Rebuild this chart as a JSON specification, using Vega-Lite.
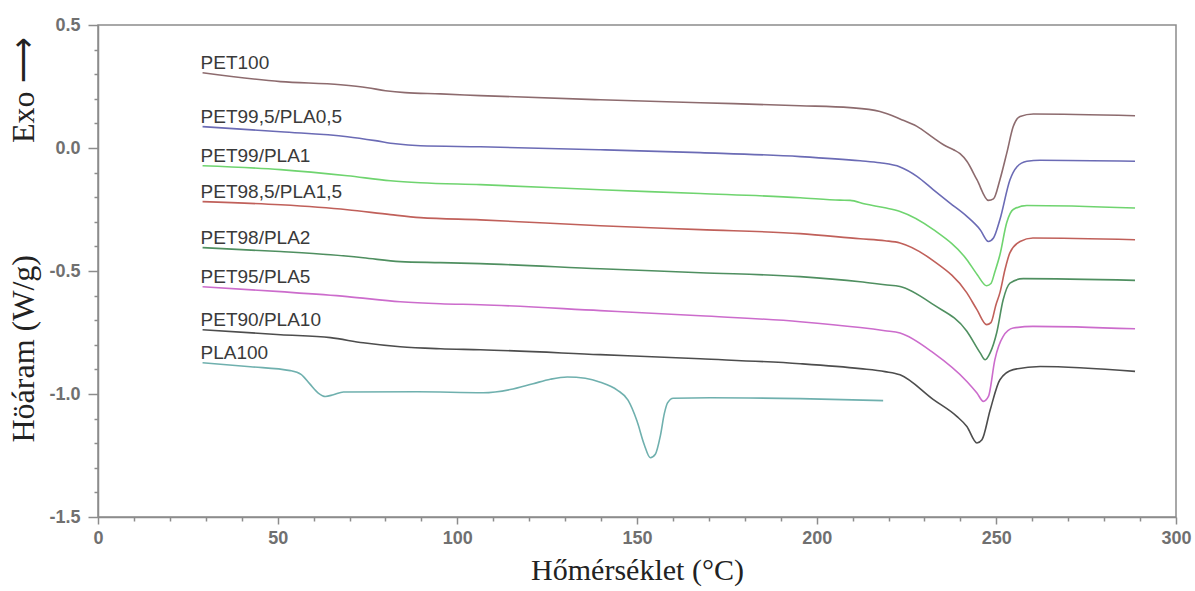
{
  "$schema": "https://vega.github.io/schema/vega-lite/v6.json",
  "width": 1078,
  "height": 492,
  "autosize": {"type": "none"},
  "padding": {"left": 98, "top": 25, "right": 19, "bottom": 74},
  "background": "white",
  "config": {
    "view": {"stroke": "#8c8c8c", "strokeWidth": 1.5},
    "axis": {
      "grid": false,
      "domainColor": "#8c8c8c",
      "domainWidth": 1.5,
      "tickColor": "#8c8c8c",
      "tickWidth": 1.5,
      "labelFont": "Liberation Sans",
      "labelFontSize": 18,
      "labelFontWeight": "bold",
      "labelColor": "#707070",
      "titleFont": "Liberation Serif",
      "titleFontWeight": "normal",
      "titleColor": "#222222"
    }
  },
  "data": {
    "values": [
      {"s": "PET100", "t": 29.1, "v": 0.306},
      {"s": "PET100", "t": 50.8, "v": 0.270},
      {"s": "PET100", "t": 67.5, "v": 0.257},
      {"s": "PET100", "t": 75.0, "v": 0.245},
      {"s": "PET100", "t": 80.0, "v": 0.233},
      {"s": "PET100", "t": 85.5, "v": 0.225},
      {"s": "PET100", "t": 95.3, "v": 0.220},
      {"s": "PET100", "t": 106.4, "v": 0.213},
      {"s": "PET100", "t": 139.8, "v": 0.196},
      {"s": "PET100", "t": 167.6, "v": 0.184},
      {"s": "PET100", "t": 195.4, "v": 0.172},
      {"s": "PET100", "t": 209.3, "v": 0.164},
      {"s": "PET100", "t": 217.6, "v": 0.148},
      {"s": "PET100", "t": 223.2, "v": 0.118},
      {"s": "PET100", "t": 227.9, "v": 0.088},
      {"s": "PET100", "t": 232.5, "v": 0.041},
      {"s": "PET100", "t": 235.3, "v": 0.013},
      {"s": "PET100", "t": 238.1, "v": -0.007},
      {"s": "PET100", "t": 239.9, "v": -0.023},
      {"s": "PET100", "t": 241.8, "v": -0.054},
      {"s": "PET100", "t": 244.6, "v": -0.129},
      {"s": "PET100", "t": 247.8, "v": -0.213},
      {"s": "PET100", "t": 249.2, "v": -0.207},
      {"s": "PET100", "t": 251.0, "v": -0.129},
      {"s": "PET100", "t": 252.9, "v": -0.021},
      {"s": "PET100", "t": 254.7, "v": 0.087},
      {"s": "PET100", "t": 256.6, "v": 0.128},
      {"s": "PET100", "t": 260.3, "v": 0.138},
      {"s": "PET100", "t": 288.6, "v": 0.131},

      {"s": "PET99,5/PLA0,5", "t": 29.1, "v": 0.087},
      {"s": "PET99,5/PLA0,5", "t": 50.8, "v": 0.066},
      {"s": "PET99,5/PLA0,5", "t": 69.4, "v": 0.046},
      {"s": "PET99,5/PLA0,5", "t": 77.2, "v": 0.030},
      {"s": "PET99,5/PLA0,5", "t": 82.8, "v": 0.017},
      {"s": "PET99,5/PLA0,5", "t": 89.7, "v": 0.009},
      {"s": "PET99,5/PLA0,5", "t": 106.4, "v": 0.005},
      {"s": "PET99,5/PLA0,5", "t": 139.8, "v": -0.007},
      {"s": "PET99,5/PLA0,5", "t": 167.6, "v": -0.019},
      {"s": "PET99,5/PLA0,5", "t": 195.4, "v": -0.035},
      {"s": "PET99,5/PLA0,5", "t": 212.1, "v": -0.052},
      {"s": "PET99,5/PLA0,5", "t": 217.6, "v": -0.060},
      {"s": "PET99,5/PLA0,5", "t": 223.2, "v": -0.077},
      {"s": "PET99,5/PLA0,5", "t": 227.9, "v": -0.115},
      {"s": "PET99,5/PLA0,5", "t": 232.5, "v": -0.170},
      {"s": "PET99,5/PLA0,5", "t": 237.1, "v": -0.224},
      {"s": "PET99,5/PLA0,5", "t": 241.8, "v": -0.278},
      {"s": "PET99,5/PLA0,5", "t": 245.5, "v": -0.332},
      {"s": "PET99,5/PLA0,5", "t": 247.8, "v": -0.380},
      {"s": "PET99,5/PLA0,5", "t": 249.2, "v": -0.366},
      {"s": "PET99,5/PLA0,5", "t": 251.0, "v": -0.291},
      {"s": "PET99,5/PLA0,5", "t": 253.8, "v": -0.129},
      {"s": "PET99,5/PLA0,5", "t": 255.7, "v": -0.077},
      {"s": "PET99,5/PLA0,5", "t": 258.5, "v": -0.054},
      {"s": "PET99,5/PLA0,5", "t": 262.2, "v": -0.050},
      {"s": "PET99,5/PLA0,5", "t": 288.6, "v": -0.054},

      {"s": "PET99/PLA1", "t": 29.1, "v": -0.072},
      {"s": "PET99/PLA1", "t": 50.8, "v": -0.088},
      {"s": "PET99/PLA1", "t": 69.4, "v": -0.113},
      {"s": "PET99/PLA1", "t": 81.4, "v": -0.133},
      {"s": "PET99/PLA1", "t": 89.7, "v": -0.141},
      {"s": "PET99/PLA1", "t": 106.4, "v": -0.149},
      {"s": "PET99/PLA1", "t": 139.8, "v": -0.170},
      {"s": "PET99/PLA1", "t": 167.6, "v": -0.185},
      {"s": "PET99/PLA1", "t": 195.4, "v": -0.202},
      {"s": "PET99/PLA1", "t": 206.5, "v": -0.212},
      {"s": "PET99/PLA1", "t": 209.3, "v": -0.213},
      {"s": "PET99/PLA1", "t": 213.5, "v": -0.228},
      {"s": "PET99/PLA1", "t": 219.0, "v": -0.243},
      {"s": "PET99/PLA1", "t": 223.2, "v": -0.258},
      {"s": "PET99/PLA1", "t": 232.5, "v": -0.332},
      {"s": "PET99/PLA1", "t": 241.8, "v": -0.454},
      {"s": "PET99/PLA1", "t": 244.7, "v": -0.515},
      {"s": "PET99/PLA1", "t": 247.3, "v": -0.560},
      {"s": "PET99/PLA1", "t": 248.5, "v": -0.551},
      {"s": "PET99/PLA1", "t": 249.6, "v": -0.503},
      {"s": "PET99/PLA1", "t": 251.0, "v": -0.434},
      {"s": "PET99/PLA1", "t": 252.9, "v": -0.303},
      {"s": "PET99/PLA1", "t": 254.7, "v": -0.250},
      {"s": "PET99/PLA1", "t": 258.5, "v": -0.234},
      {"s": "PET99/PLA1", "t": 288.6, "v": -0.244},

      {"s": "PET98,5/PLA1,5", "t": 29.1, "v": -0.218},
      {"s": "PET98,5/PLA1,5", "t": 50.8, "v": -0.231},
      {"s": "PET98,5/PLA1,5", "t": 69.4, "v": -0.251},
      {"s": "PET98,5/PLA1,5", "t": 81.4, "v": -0.271},
      {"s": "PET98,5/PLA1,5", "t": 89.7, "v": -0.283},
      {"s": "PET98,5/PLA1,5", "t": 106.4, "v": -0.292},
      {"s": "PET98,5/PLA1,5", "t": 139.8, "v": -0.316},
      {"s": "PET98,5/PLA1,5", "t": 167.6, "v": -0.332},
      {"s": "PET98,5/PLA1,5", "t": 195.4, "v": -0.348},
      {"s": "PET98,5/PLA1,5", "t": 212.1, "v": -0.369},
      {"s": "PET98,5/PLA1,5", "t": 219.0, "v": -0.377},
      {"s": "PET98,5/PLA1,5", "t": 223.2, "v": -0.386},
      {"s": "PET98,5/PLA1,5", "t": 232.4, "v": -0.458},
      {"s": "PET98,5/PLA1,5", "t": 241.8, "v": -0.589},
      {"s": "PET98,5/PLA1,5", "t": 244.6, "v": -0.657},
      {"s": "PET98,5/PLA1,5", "t": 247.3, "v": -0.718},
      {"s": "PET98,5/PLA1,5", "t": 248.5, "v": -0.710},
      {"s": "PET98,5/PLA1,5", "t": 249.9, "v": -0.637},
      {"s": "PET98,5/PLA1,5", "t": 251.0, "v": -0.588},
      {"s": "PET98,5/PLA1,5", "t": 252.4, "v": -0.495},
      {"s": "PET98,5/PLA1,5", "t": 253.8, "v": -0.425},
      {"s": "PET98,5/PLA1,5", "t": 256.6, "v": -0.380},
      {"s": "PET98,5/PLA1,5", "t": 260.2, "v": -0.366},
      {"s": "PET98,5/PLA1,5", "t": 288.6, "v": -0.373},

      {"s": "PET98/PLA2", "t": 29.1, "v": -0.405},
      {"s": "PET98/PLA2", "t": 50.8, "v": -0.421},
      {"s": "PET98/PLA2", "t": 64.7, "v": -0.434},
      {"s": "PET98/PLA2", "t": 73.8, "v": -0.446},
      {"s": "PET98/PLA2", "t": 84.1, "v": -0.462},
      {"s": "PET98/PLA2", "t": 95.3, "v": -0.466},
      {"s": "PET98/PLA2", "t": 106.4, "v": -0.470},
      {"s": "PET98/PLA2", "t": 139.8, "v": -0.491},
      {"s": "PET98/PLA2", "t": 167.6, "v": -0.507},
      {"s": "PET98/PLA2", "t": 195.4, "v": -0.523},
      {"s": "PET98/PLA2", "t": 212.1, "v": -0.544},
      {"s": "PET98/PLA2", "t": 219.0, "v": -0.556},
      {"s": "PET98/PLA2", "t": 223.2, "v": -0.563},
      {"s": "PET98/PLA2", "t": 232.5, "v": -0.637},
      {"s": "PET98/PLA2", "t": 241.8, "v": -0.745},
      {"s": "PET98/PLA2", "t": 245.5, "v": -0.833},
      {"s": "PET98/PLA2", "t": 246.9, "v": -0.861},
      {"s": "PET98/PLA2", "t": 248.3, "v": -0.832},
      {"s": "PET98/PLA2", "t": 250.1, "v": -0.751},
      {"s": "PET98/PLA2", "t": 251.9, "v": -0.617},
      {"s": "PET98/PLA2", "t": 253.8, "v": -0.549},
      {"s": "PET98/PLA2", "t": 257.5, "v": -0.531},
      {"s": "PET98/PLA2", "t": 288.6, "v": -0.538},

      {"s": "PET95/PLA5", "t": 29.1, "v": -0.564},
      {"s": "PET95/PLA5", "t": 50.8, "v": -0.584},
      {"s": "PET95/PLA5", "t": 69.4, "v": -0.604},
      {"s": "PET95/PLA5", "t": 84.1, "v": -0.625},
      {"s": "PET95/PLA5", "t": 95.3, "v": -0.633},
      {"s": "PET95/PLA5", "t": 106.4, "v": -0.637},
      {"s": "PET95/PLA5", "t": 139.8, "v": -0.661},
      {"s": "PET95/PLA5", "t": 167.6, "v": -0.682},
      {"s": "PET95/PLA5", "t": 195.4, "v": -0.706},
      {"s": "PET95/PLA5", "t": 212.1, "v": -0.730},
      {"s": "PET95/PLA5", "t": 219.0, "v": -0.743},
      {"s": "PET95/PLA5", "t": 223.2, "v": -0.752},
      {"s": "PET95/PLA5", "t": 232.5, "v": -0.833},
      {"s": "PET95/PLA5", "t": 241.8, "v": -0.949},
      {"s": "PET95/PLA5", "t": 244.6, "v": -0.996},
      {"s": "PET95/PLA5", "t": 246.4, "v": -1.030},
      {"s": "PET95/PLA5", "t": 247.8, "v": -1.010},
      {"s": "PET95/PLA5", "t": 249.6, "v": -0.860},
      {"s": "PET95/PLA5", "t": 251.9, "v": -0.766},
      {"s": "PET95/PLA5", "t": 254.7, "v": -0.732},
      {"s": "PET95/PLA5", "t": 260.2, "v": -0.725},
      {"s": "PET95/PLA5", "t": 288.6, "v": -0.735},

      {"s": "PET90/PLA10", "t": 29.1, "v": -0.739},
      {"s": "PET90/PLA10", "t": 50.8, "v": -0.759},
      {"s": "PET90/PLA10", "t": 64.7, "v": -0.771},
      {"s": "PET90/PLA10", "t": 73.8, "v": -0.792},
      {"s": "PET90/PLA10", "t": 84.1, "v": -0.808},
      {"s": "PET90/PLA10", "t": 95.3, "v": -0.816},
      {"s": "PET90/PLA10", "t": 106.4, "v": -0.820},
      {"s": "PET90/PLA10", "t": 139.8, "v": -0.840},
      {"s": "PET90/PLA10", "t": 167.6, "v": -0.857},
      {"s": "PET90/PLA10", "t": 195.4, "v": -0.877},
      {"s": "PET90/PLA10", "t": 212.1, "v": -0.897},
      {"s": "PET90/PLA10", "t": 219.0, "v": -0.909},
      {"s": "PET90/PLA10", "t": 223.2, "v": -0.922},
      {"s": "PET90/PLA10", "t": 232.5, "v": -1.023},
      {"s": "PET90/PLA10", "t": 239.0, "v": -1.091},
      {"s": "PET90/PLA10", "t": 241.8, "v": -1.132},
      {"s": "PET90/PLA10", "t": 244.6, "v": -1.199},
      {"s": "PET90/PLA10", "t": 246.0, "v": -1.186},
      {"s": "PET90/PLA10", "t": 248.3, "v": -1.064},
      {"s": "PET90/PLA10", "t": 251.0, "v": -0.942},
      {"s": "PET90/PLA10", "t": 254.7, "v": -0.901},
      {"s": "PET90/PLA10", "t": 262.2, "v": -0.888},
      {"s": "PET90/PLA10", "t": 288.6, "v": -0.908},

      {"s": "PLA100", "t": 29.1, "v": -0.873},
      {"s": "PLA100", "t": 42.4, "v": -0.889},
      {"s": "PLA100", "t": 53.5, "v": -0.905},
      {"s": "PLA100", "t": 56.5, "v": -0.920},
      {"s": "PLA100", "t": 59.0, "v": -0.960},
      {"s": "PLA100", "t": 61.3, "v": -0.996},
      {"s": "PLA100", "t": 63.3, "v": -1.010},
      {"s": "PLA100", "t": 65.5, "v": -1.003},
      {"s": "PLA100", "t": 68.3, "v": -0.992},
      {"s": "PLA100", "t": 88.9, "v": -0.991},
      {"s": "PLA100", "t": 107.2, "v": -0.995},
      {"s": "PLA100", "t": 114.7, "v": -0.982},
      {"s": "PLA100", "t": 121.1, "v": -0.958},
      {"s": "PLA100", "t": 125.9, "v": -0.940},
      {"s": "PLA100", "t": 130.6, "v": -0.931},
      {"s": "PLA100", "t": 135.6, "v": -0.936},
      {"s": "PLA100", "t": 139.8, "v": -0.952},
      {"s": "PLA100", "t": 144.5, "v": -0.984},
      {"s": "PLA100", "t": 147.5, "v": -1.025},
      {"s": "PLA100", "t": 150.0, "v": -1.110},
      {"s": "PLA100", "t": 152.0, "v": -1.205},
      {"s": "PLA100", "t": 153.7, "v": -1.259},
      {"s": "PLA100", "t": 155.1, "v": -1.245},
      {"s": "PLA100", "t": 156.5, "v": -1.170},
      {"s": "PLA100", "t": 157.6, "v": -1.080},
      {"s": "PLA100", "t": 158.5, "v": -1.036},
      {"s": "PLA100", "t": 160.1, "v": -1.017},
      {"s": "PLA100", "t": 170.4, "v": -1.015},
      {"s": "PLA100", "t": 195.4, "v": -1.019},
      {"s": "PLA100", "t": 218.5, "v": -1.027}
    ]
  },
  "encoding": {
    "x": {
      "field": "t",
      "type": "quantitative",
      "scale": {"domain": [0, 300], "nice": false, "zero": false},
      "axis": {
        "title": "Hőmérséklet (°C)",
        "values": [0, 10, 20, 30, 40, 50, 60, 70, 80, 90, 100, 110, 120, 130, 140, 150, 160, 170, 180, 190, 200, 210, 220, 230, 240, 250, 260, 270, 280, 290, 300],
        "format": "d",
        "labelExpr": "datum.value % 50 === 0 ? datum.label : ''",
        "labelOverlap": false,
        "labelFlush": false,
        "labelPadding": 5,
        "tickSize": {"condition": {"test": "datum.value % 50 === 0", "value": 7}, "value": 4},
        "titleFontSize": 30,
        "titleBaseline": "alphabetic",
        "titleY": 62
      }
    },
    "y": {
      "field": "v",
      "type": "quantitative",
      "scale": {"domain": [-1.5, 0.5], "nice": false, "zero": false},
      "axis": {
        "title": "Höáram (W/g)\u00a0\u00a0\u00a0\u00a0\u00a0\u00a0\u00a0\u00a0\u00a0\u00a0\u00a0\u00a0\u00a0\u00a0Exo ⟶",
        "values": [-1.5, -1.4, -1.3, -1.2, -1.1, -1.0, -0.9, -0.8, -0.7, -0.6, -0.5, -0.4, -0.3, -0.2, -0.1, 0, 0.1, 0.2, 0.3, 0.4, 0.5],
        "labelExpr": "abs(datum.value * 2 - round(datum.value * 2)) < 0.001 ? replace(format(datum.value, '.1f'), '\u2212', '-') : ''",
        "labelOverlap": false,
        "labelPadding": 8,
        "tickSize": {"condition": {"test": "abs(datum.value * 2 - round(datum.value * 2)) < 0.001", "value": 10}, "value": 4},
        "titleFontSize": 32,
        "titleAngle": -90,
        "titleAlign": "left",
        "titleBaseline": "alphabetic",
        "titleX": -65,
        "titleY": 417
      }
    }
  },
  "layer": [
    {
      "mark": {"type": "line", "interpolate": "monotone", "strokeWidth": 1.6},
      "encoding": {
        "color": {
          "field": "s",
          "type": "nominal",
          "scale": {
            "domain": ["PET100", "PET99,5/PLA0,5", "PET99/PLA1", "PET98,5/PLA1,5", "PET98/PLA2", "PET95/PLA5", "PET90/PLA10", "PLA100"],
            "range": ["#8d6b6e", "#6b6bb5", "#6fd46f", "#c0605a", "#4f8f60", "#cc6ccc", "#4d4d4d", "#6fb0ae"]
          },
          "legend": null
        }
      }
    },
    {
      "transform": [
        {"joinaggregate": [{"op": "min", "field": "t", "as": "t0"}], "groupby": ["s"]},
        {"filter": "datum.t === datum.t0"}
      ],
      "mark": {
        "type": "text",
        "align": "left",
        "baseline": "alphabetic",
        "dx": -2,
        "dy": -4,
        "font": "Liberation Sans",
        "fontSize": 19,
        "color": "#3a3a3a"
      },
      "encoding": {"text": {"field": "s"}}
    }
  ]
}
